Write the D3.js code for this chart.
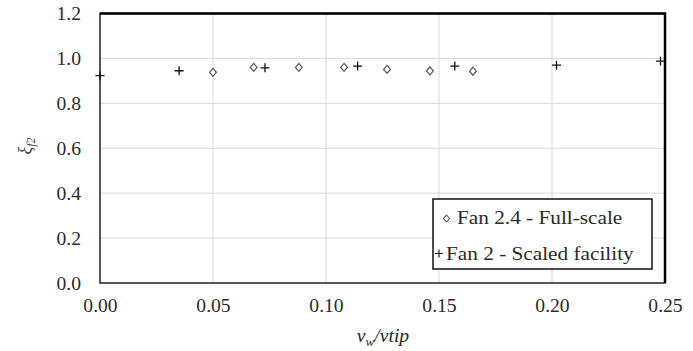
<!DOCTYPE html>
<html>
<head>
<meta charset="utf-8">
<script src="https://cdn.jsdelivr.net/npm/d3@7"></script>
<style>
  body { margin: 0; background: #fff; }
</style>
</head>
<body>
<div id="chart"></div>
<script>
// data
var fullX = [0.050, 0.068, 0.088, 0.108, 0.127, 0.146, 0.165];
var fullY = [0.938, 0.960, 0.960, 0.960, 0.951, 0.945, 0.943];
var scaledX = [0.000, 0.035, 0.073, 0.114, 0.157, 0.202, 0.248];
var scaledY = [0.923, 0.945, 0.958, 0.966, 0.966, 0.970, 0.988];
var xTicks = [0, 0.05, 0.10, 0.15, 0.20, 0.25];
var yTicks = [0, 0.2, 0.4, 0.6, 0.8, 1.0, 1.2];
var legendLabels = ["Fan 2.4 - Full-scale", "Fan 2 - Scaled facility"];

var serif = "'Liberation Serif', 'Times New Roman', Times, serif";
var stretch = 1.09; // the source picture is a bit wider than tall
var width = 693, height = 351;
var plotL = 100, plotR = 665, plotT = 13.5, plotB = 283;

var x = d3.scaleLinear().domain([0, 0.25]).range([plotL, plotR]);
var y = d3.scaleLinear().domain([0, 1.2]).range([plotB, plotT]);

var svg = d3.select("#chart").append("svg")
    .attr("width", width)
    .attr("height", height)
    .style("font-family", serif);

// widen a text along its baseline
function widen(sel) {
    sel.each(function() {
        var w = this.getComputedTextLength();
        d3.select(this)
            .attr("textLength", w * stretch)
            .attr("lengthAdjust", "spacingAndGlyphs");
    });
}

// grid
svg.selectAll("line.hgrid")
    .data(yTicks.slice(1, -1))
    .enter().append("line")
    .attr("class", "hgrid")
    .attr("x1", plotL).attr("x2", plotR)
    .attr("y1", function(d) { return y(d); })
    .attr("y2", function(d) { return y(d); })
    .attr("stroke", "#d9d9d9").attr("stroke-width", 1);

svg.selectAll("line.vgrid")
    .data(xTicks.slice(1, -1))
    .enter().append("line")
    .attr("class", "vgrid")
    .attr("y1", plotT).attr("y2", plotB)
    .attr("x1", function(d) { return x(d); })
    .attr("x2", function(d) { return x(d); })
    .attr("stroke", "#d9d9d9").attr("stroke-width", 1);

// plot border
svg.append("rect")
    .attr("x", plotL).attr("y", plotT)
    .attr("width", plotR - plotL).attr("height", plotB - plotT)
    .attr("fill", "none").attr("stroke", "#222").attr("stroke-width", 1.5);
svg.append("path")
    .attr("d", "M" + plotL + "," + plotT + "H" + plotR + "V" + plotB)
    .attr("fill", "none").attr("stroke", "#000").attr("stroke-width", 2.5);

// axes (labels only, like the source)
var xAxis = d3.axisBottom(x).tickValues(xTicks).tickSize(0).tickPadding(20)
    .tickFormat(d3.format(".2f"));
var yAxis = d3.axisLeft(y).tickValues(yTicks).tickSize(0).tickPadding(19)
    .tickFormat(d3.format(".1f"));

var gx = svg.append("g").attr("transform", "translate(0," + plotB + ")").call(xAxis);
var gy = svg.append("g").attr("transform", "translate(" + plotL + ",0)").call(yAxis);
[gx, gy].forEach(function(g) {
    g.select(".domain").remove();
    g.attr("font-family", null).attr("font-size", null);
    g.selectAll("text")
        .style("font-family", serif)
        .style("font-size", "18px")
        .attr("fill", "#2a2a2a")
        .call(widen);
});
gy.selectAll("text").attr("dy", "0.35em");
gx.selectAll("text").attr("dy", "0.5em");

// axis titles
var xt = svg.append("text")
    .attr("x", 383).attr("y", 342)
    .attr("text-anchor", "middle")
    .style("font-family", serif)
    .style("font-size", "18px")
    .style("font-style", "italic")
    .attr("fill", "#2a2a2a");
xt.append("tspan").text("v");
xt.append("tspan").style("font-size", "12px").attr("dy", 4).text("w");
xt.append("tspan").attr("dy", -4).text("/vtip");
xt.call(widen);

var yt = svg.append("text")
    .attr("transform", "translate(31,146) rotate(-90)")
    .attr("text-anchor", "middle")
    .style("font-family", serif)
    .style("font-size", "18px")
    .style("font-style", "italic")
    .attr("fill", "#444");
yt.append("tspan").text("\u03be");
yt.append("tspan").style("font-size", "12px").attr("dy", 4).text("f2");

// marks
function diamond(s) {
    return "M0," + (-s) + "L" + (s * 0.85) + ",0L0," + s + "L" + (-s * 0.85) + ",0Z";
}
function plus(s) {
    return "M" + (-s) + ",0H" + s + "M0," + (-s) + "V" + s;
}

svg.selectAll("path.full")
    .data(fullX)
    .enter().append("path")
    .attr("class", "full")
    .attr("transform", function(d, i) { return "translate(" + x(d) + "," + y(fullY[i]) + ")"; })
    .attr("d", diamond(4))
    .attr("fill", "#fff").attr("stroke", "#555").attr("stroke-width", 1.2);

svg.selectAll("path.scaled")
    .data(scaledX)
    .enter().append("path")
    .attr("class", "scaled")
    .attr("transform", function(d, i) { return "translate(" + x(d) + "," + y(scaledY[i]) + ")"; })
    .attr("d", plus(4.5))
    .attr("fill", "none").attr("stroke", "#111").attr("stroke-width", 1.3);

// legend
var lg = svg.append("g");
lg.append("rect")
    .attr("x", 433).attr("y", 199)
    .attr("width", 219).attr("height", 70)
    .attr("fill", "#fff").attr("stroke", "#111").attr("stroke-width", 1.5);
lg.append("path")
    .attr("transform", "translate(446.5,218.5)")
    .attr("d", diamond(3.5))
    .attr("fill", "#fff").attr("stroke", "#555").attr("stroke-width", 1.1);
lg.append("path")
    .attr("transform", "translate(439,253.5)")
    .attr("d", plus(4))
    .attr("fill", "none").attr("stroke", "#222").attr("stroke-width", 1.2);
lg.selectAll("text")
    .data(legendLabels)
    .enter().append("text")
    .attr("x", function(d, i) { return i === 0 ? 457 : 446; })
    .attr("y", function(d, i) { return i === 0 ? 223.5 : 259.5; })
    .style("font-family", serif)
    .style("font-size", "19.5px")
    .attr("fill", "#2a2a2a")
    .text(function(d) { return d; })
    .call(widen);
</script>
</body>
</html>
